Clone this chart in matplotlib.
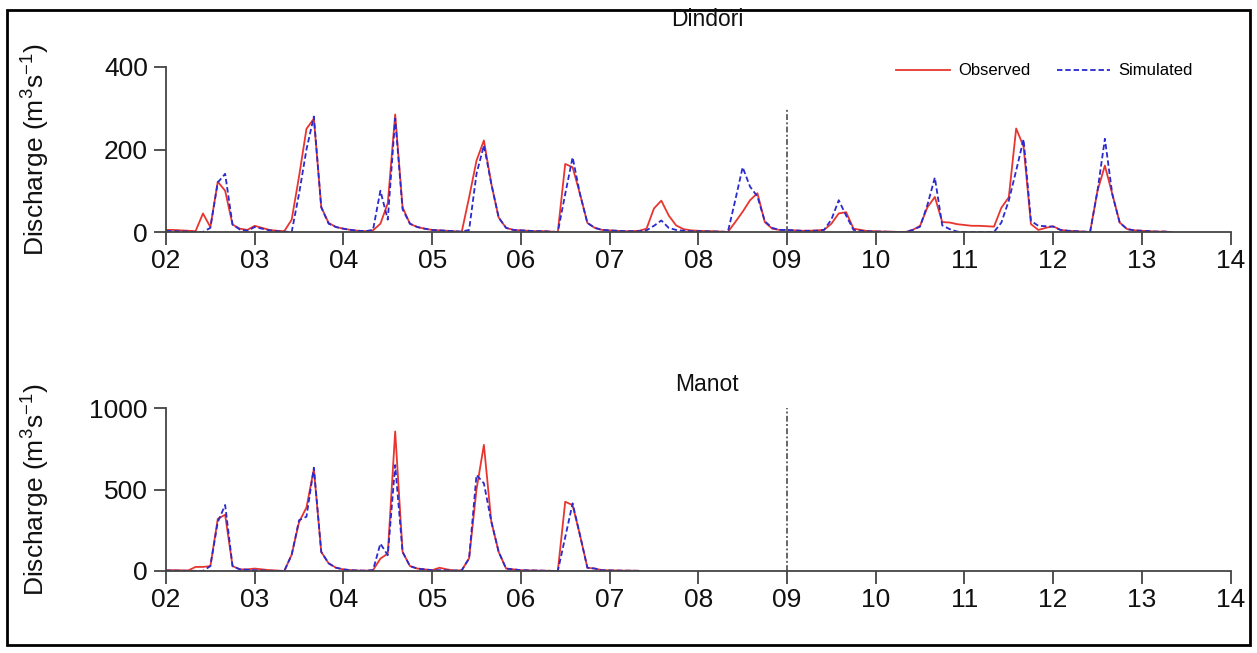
import matplotlib
matplotlib.use("Agg")
import matplotlib.pyplot as plt
from matplotlib.patches import Rectangle
import numpy as np
import pandas as pd

# monthly mean discharge (m3/s), starting Jan 2002
dindori_obs = [
    5, 5, 4, 3, 2, 45, 12, 122, 100, 18, 8, 5,          # 2002
    15, 10, 5, 3, 2, 30, 135, 250, 275, 60, 22, 12,     # 2003
    8, 5, 3, 2, 4, 20, 70, 285, 60, 20, 12, 8,          # 2004
    5, 4, 3, 2, 0, 84, 173, 222, 117, 35, 10, 5,        # 2005
    4, 3, 2, 2, 1, 0, 165, 157, 92, 22, 10, 5,          # 2006
    4, 3, 2, 2, 3, 8, 57, 76, 40, 16, 7, 4,             # 2007
    3, 2, 2, 1, 0, 24, 49, 77, 94, 24, 8, 5,            # 2008
    5, 4, 3, 3, 4, 5, 20, 45, 48, 8, 5, 2,              # 2009
    2, 1, 1, 0, 0, 5, 15, 60, 85, 24, 23, 19,           # 2010
    17, 15, 15, 14, 13, 59, 84, 251, 207, 19, 5, 10,    # 2011
    14, 5, 3, 2, 1, 0, 100, 161, 92, 23, 7, 4,          # 2012
    3, 2, 1, 1, 0,                                      # 2013
]
dindori_sim = [
    3, 2, 2, 1, 0, 0, 10, 120, 141, 18, 6, 3,
    12, 8, 4, 2, 1, 0, 93, 200, 280, 60, 20, 12,
    8, 5, 3, 2, 5, 100, 30, 275, 55, 20, 12, 8,
    5, 4, 3, 2, 1, 5, 141, 210, 117, 35, 10, 5,
    4, 3, 2, 2, 1, 0, 92, 181, 92, 22, 10, 5,
    4, 3, 2, 2, 2, 4, 15, 28, 10, 5, 3, 2,
    2, 2, 1, 1, 0, 77, 157, 110, 86, 26, 10, 5,
    5, 4, 3, 3, 3, 5, 30, 77, 40, 5, 3, 2,
    1, 1, 0, 0, 0, 5, 13, 66, 132, 16, 7, 1,
    0, 0, 0, 0, 0, 23, 76, 149, 225, 27, 15, 14,
    13, 5, 3, 2, 1, 0, 100, 226, 92, 23, 7, 4,
    3, 2, 1, 1, 0,
]
manot_obs = [
    5, 5, 4, 3, 25, 25, 30, 320, 345, 30, 10, 10,
    15, 10, 5, 3, 0, 100, 300, 390, 625, 117, 47, 20,
    10, 5, 3, 2, 5, 76, 107, 856, 117, 30, 15, 10,
    5, 20, 10, 3, 4, 78, 500, 774, 304, 117, 15, 10,
    5, 4, 3, 2, 1, 0, 425, 404, 220, 20, 15, 5,
    4, 3, 2, 2, 1,
]
manot_sim = [
    3, 2, 2, 1, 0, 0, 30, 300, 405, 30, 10, 8,
    5, 3, 2, 1, 0, 100, 312, 333, 634, 117, 47, 20,
    10, 5, 3, 2, 5, 168, 97, 650, 117, 30, 15, 10,
    5, 5, 4, 3, 4, 78, 589, 538, 304, 117, 15, 10,
    5, 4, 3, 2, 1, 0, 207, 415, 220, 20, 15, 5,
    4, 3, 2, 2, 1,
]

year_ticks = list(range(2002, 2015))
year_labels = ["%02d" % (y % 100) for y in year_ticks]
split_year = 2009
panels = [
    ("Dindori", dindori_obs, dindori_sim, [0, 200, 400], 300),
    ("Manot", manot_obs, manot_sim, [0, 500, 1000], 1000),
]


def decimal_years(n):
    dates = pd.date_range("2002-01-01", periods=n, freq="MS")
    return dates.year + (dates.month - 1) / 12.0


def main():
    plt.rcParams['font.family'] = ['Liberation Sans', 'DejaVu Sans']
    plt.rcParams['mathtext.default'] = 'regular'
    W, H = 1257, 653
    fig = plt.figure(figsize=(W / 100, H / 100), dpi=100)

    # axes boxes in pixels: (y of zero, y of top tick, y of title)
    boxes = [(232, 67, 20), (571, 408, 384)]
    left, right = 166, 1235
    axc = '#444444'

    for (name, obs, sim, yt, split_top), (y0, y1, yt_px) in zip(panels, boxes):
        ax = fig.add_axes([left / W, 1 - y0 / H, (right - left) / W,
                           (y0 - y1) / H])
        x_obs = decimal_years(len(obs))
        x_sim = decimal_years(len(sim))
        ax.plot(x_obs, obs, color='#e8352e', lw=1.3, label='Observed')
        ax.plot(x_sim, sim, color='#2a2ad0', lw=1.3,
                dashes=(3, 1.6), label='Simulated')
        ax.plot([split_year, split_year], [0, split_top], color='#666666',
                lw=1.4, dashes=(3, 1.2, 1, 1.2))

        ax.set_xlim(2002, 2014.05)
        ax.set_ylim(0, yt[-1])
        ax.set_xticks(year_ticks)
        ax.set_xticklabels(year_labels)
        ax.set_yticks(yt)
        for s in ['top', 'right']:
            ax.spines[s].set_visible(False)
        ax.spines['left'].set_bounds(0, yt[-1])
        ax.spines['bottom'].set_bounds(2002, 2014)
        for s in ['left', 'bottom']:
            ax.spines[s].set_color(axc)
            ax.spines[s].set_linewidth(1.3)
        ax.tick_params(axis='both', direction='out', colors=axc,
                       labelcolor='#111111', labelsize=19, width=1.3)
        ax.tick_params(axis='x', length=9, pad=3)
        ax.tick_params(axis='y', length=9, pad=4)
        ax.set_ylabel("Discharge (m$^{3}$s$^{-1}$)", fontsize=19,
                      color='#111111')
        ax.yaxis.set_label_coords(-0.107, 0.5)
        ax.patch.set_visible(False)

        fig.text(707 / W, 1 - yt_px / H, name, ha='center',
                 va='center', fontsize=16.5, color='#111111')

        if name == "Dindori":
            ax.legend(loc='center', bbox_to_anchor=(0.822, 0.976), ncol=2,
                      frameon=False, handlelength=3.2, columnspacing=1.6,
                      handletextpad=0.5,
                      prop={'family': ['Liberation Sans Narrow',
                                       'Liberation Sans'], 'size': 12})

    fig.add_artist(Rectangle((7 / W, 8 / H), (1250 - 7) / W, (645 - 10) / H,
                             transform=fig.transFigure, fill=False,
                             lw=2, ec='black'))
    fig.savefig("out.png", dpi=100)


if __name__ == '__main__':
    main()
